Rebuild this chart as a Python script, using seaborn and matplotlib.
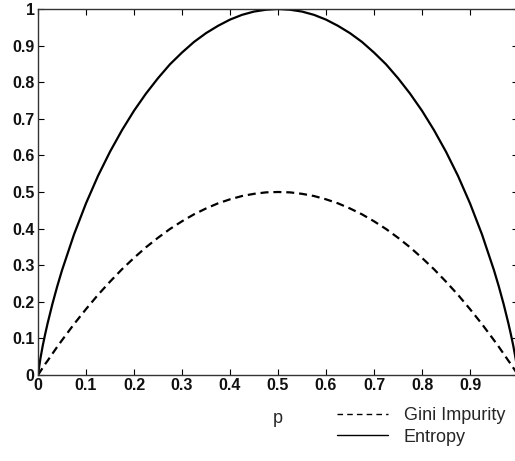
import pandas as pd
import matplotlib
matplotlib.use("Agg")
import matplotlib.pyplot as plt
import seaborn as sns
from matplotlib.lines import Line2D

# values
p_vals = [0.0, 0.005, 0.01, 0.015, 0.02, 0.03, 0.04, 0.05, 0.075, 0.1, 0.125, 0.15, 0.175, 0.2,
          0.225, 0.25, 0.275, 0.3, 0.325, 0.35, 0.375, 0.4, 0.425, 0.45, 0.475, 0.5,
          0.525, 0.55, 0.575, 0.6, 0.625, 0.65, 0.675, 0.7, 0.725, 0.75, 0.775, 0.8, 0.825,
          0.85, 0.875, 0.9, 0.925, 0.95, 0.96, 0.97, 0.98, 0.985, 0.99, 0.995, 1.0]
entropy_vals = [0.0, 0.045, 0.081, 0.112, 0.141, 0.194, 0.242, 0.286, 0.384, 0.469, 0.544, 0.610, 0.669, 0.722,
                0.769, 0.811, 0.849, 0.881, 0.910, 0.934, 0.954, 0.971, 0.984, 0.993, 0.998, 1.0,
                0.998, 0.993, 0.984, 0.971, 0.954, 0.934, 0.910, 0.881, 0.849, 0.811, 0.769, 0.722, 0.669,
                0.610, 0.544, 0.469, 0.384, 0.286, 0.242, 0.194, 0.141, 0.112, 0.081, 0.045, 0.0]
gini_vals = [0.0, 0.010, 0.020, 0.030, 0.039, 0.058, 0.077, 0.095, 0.139, 0.180, 0.219, 0.255, 0.289, 0.320,
             0.349, 0.375, 0.399, 0.420, 0.439, 0.455, 0.469, 0.480, 0.489, 0.495, 0.499, 0.500,
             0.499, 0.495, 0.489, 0.480, 0.469, 0.455, 0.439, 0.420, 0.399, 0.375, 0.349, 0.320, 0.289,
             0.255, 0.219, 0.180, 0.139, 0.095, 0.077, 0.058, 0.039, 0.030, 0.020, 0.010, 0.0]
x_ticks = [0, 0.1, 0.2, 0.3, 0.4, 0.5, 0.6, 0.7, 0.8, 0.9]
x_labels = ['0', '0.1', '0.2', '0.3', '0.4', '0.5', '0.6', '0.7', '0.8', '0.9']
y_ticks = [0, 0.1, 0.2, 0.3, 0.4, 0.5, 0.6, 0.7, 0.8, 0.9, 1]
y_labels = ['0', '0.1', '0.2', '0.3', '0.4', '0.5', '0.6', '0.7', '0.8', '0.9', '1']


def main():
    sns.set_style("ticks")
    plt.rcParams['font.family'] = ['Liberation Sans', 'DejaVu Sans']

    df = pd.concat([
        pd.DataFrame({'p': p_vals, 'value': gini_vals, 'measure': 'Gini Impurity'}),
        pd.DataFrame({'p': p_vals, 'value': entropy_vals, 'measure': 'Entropy'}),
    ])

    fig = plt.figure(figsize=(5.15, 4.61), dpi=100)
    ax = fig.add_axes([38 / 515, 86 / 461, 480 / 515, 366 / 461])

    sns.lineplot(data=df, x='p', y='value', style='measure', color='black',
                 dashes={'Gini Impurity': (3.6, 2.2), 'Entropy': ''},
                 linewidth=1.6, sort=False, legend=False, ax=ax)

    ax.set_xlim(0, 1)
    ax.set_ylim(0, 1)
    ax.set_xticks(x_ticks)
    ax.set_xticklabels(x_labels)
    ax.set_yticks(y_ticks)
    ax.set_yticklabels(y_labels)
    ax.tick_params(direction='in', length=4, width=0.8, color='black',
                   top=True, right=True, labelsize=11.5, pad=2.5)
    for lab in ax.get_xticklabels() + ax.get_yticklabels():
        lab.set_fontweight('bold')
        lab.set_color('#111111')
    for s in ax.spines.values():
        s.set_visible(True)
        s.set_linewidth(1.0)
        s.set_color('#333333')

    ax.set_xlabel('p', fontsize=13, labelpad=12)
    ax.set_ylabel('')

    handles = [Line2D([], [], color='black', linestyle=(0, (4, 3)), linewidth=1.0),
               Line2D([], [], color='black', linestyle='-', linewidth=1.0)]
    fig.legend(handles, ['Gini Impurity', 'Entropy'], loc='upper left',
               bbox_to_anchor=(337 / 515, 54 / 461), frameon=False, fontsize=13,
               handlelength=2.8, handletextpad=0.9, labelspacing=0.25,
               borderpad=0, borderaxespad=0)

    fig.savefig('out.png', dpi=100)
    plt.close(fig)


if __name__ == "__main__":
    main()
